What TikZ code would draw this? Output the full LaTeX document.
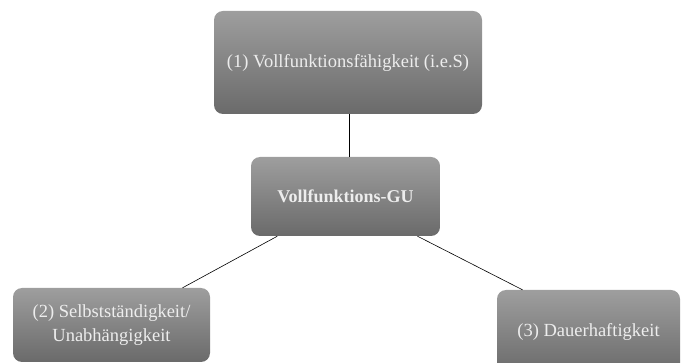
\documentclass[tikz,border=0pt]{standalone}
\usepackage{fontspec}
\setmainfont{Liberation Serif}
\usetikzlibrary{positioning,calc,shadows}
\definecolor{boxtop}{HTML}{9E9E9E}
\definecolor{boxbot}{HTML}{6A6A6A}
\definecolor{boxtext}{HTML}{EDEDED}
\tikzset{
  gu/.style={rectangle, rounded corners=9pt, text centered, draw=none,
    top color=boxtop, bottom color=boxbot, text=boxtext, align=center,
    font=\fontsize{18.5}{24}\selectfont},
  ln/.style={draw=black, line width=0.6pt}
}

\begin{document}
\begin{tikzpicture}[x=1pt,y=-1pt]
	\useasboundingbox (0,0) rectangle (683,363);
	\node[gu, minimum width=268pt, minimum height=103pt] (vfs) at (348,62.5) {(1) Vollfunktionsfähigkeit (i.e.S)};
	\node[gu, minimum width=189pt, minimum height=79pt, font=\fontsize{18}{24}\selectfont\bfseries] (vgu) at (345.5,196.5) {Vollfunktions-GU};
	\node[gu, minimum width=197pt, minimum height=74pt] (sel) at (111.5,325) {(2) Selbstständigkeit/\\Unabhängigkeit};
	\node[gu, minimum width=183pt, minimum height=84pt] (dau) at (588.5,332) {(3) Dauerhaftigkeit};
	%
	\draw[ln] (vfs.south -| 349,0) -- (vgu.north -| 349,0);
	\draw[ln] ($(vgu.south west)!0.14!(vgu.south east)$) -- ($(sel.north west)!0.86!(sel.north east)$);
	\draw[ln] ($(vgu.south west)!0.88!(vgu.south east)$) -- ($(dau.north west)!0.14!(dau.north east)$);
\end{tikzpicture}
\end{document}
